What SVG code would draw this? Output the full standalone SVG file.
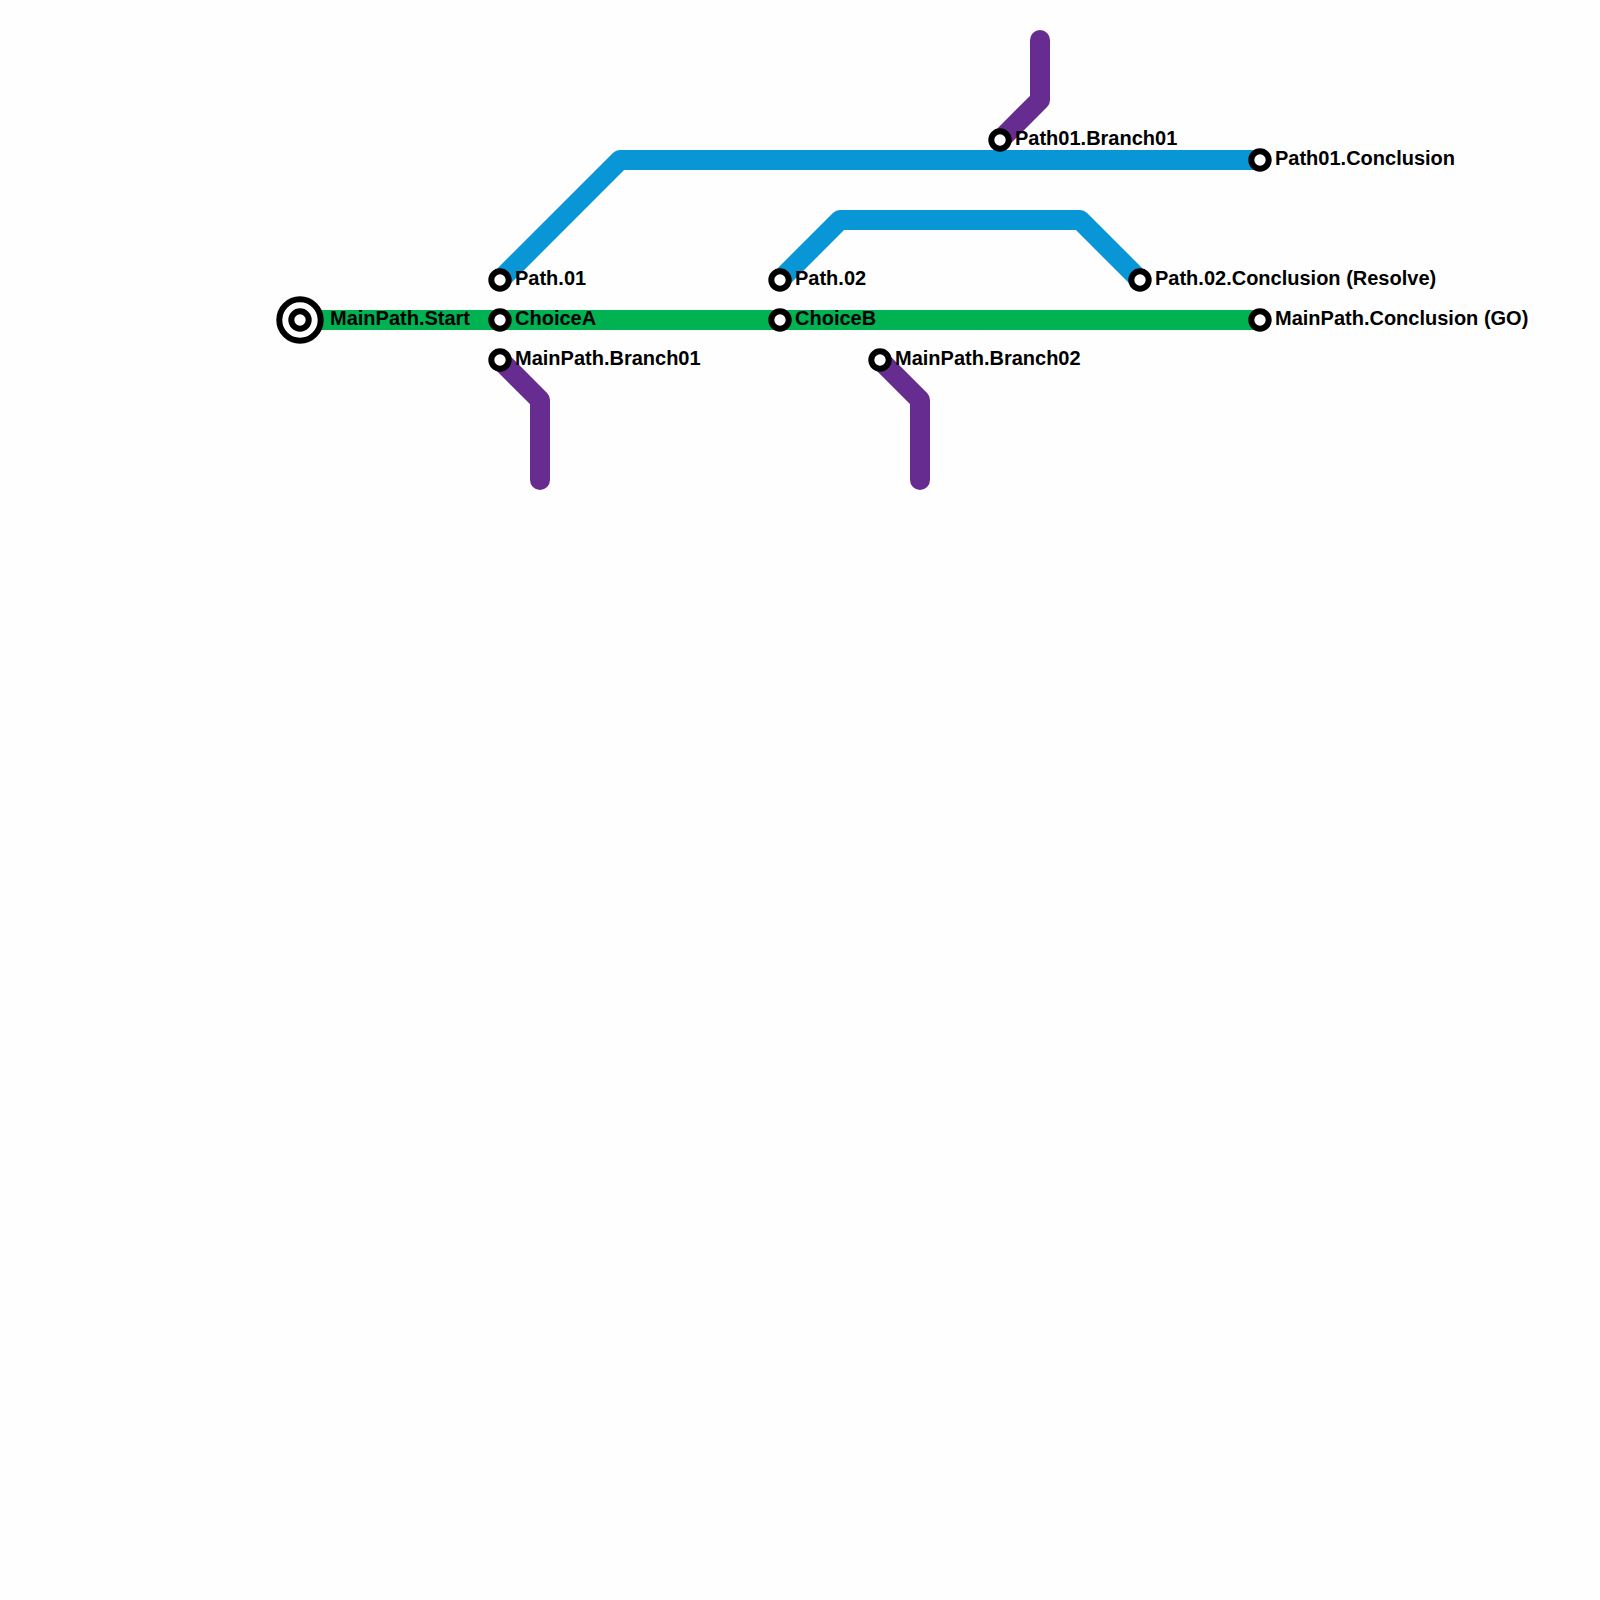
<svg xmlns="http://www.w3.org/2000/svg" width="1600" height="1600" viewBox="0 0 1600 1600">
<style>
.line{fill:none;stroke-width:20;stroke-linecap:round;stroke-linejoin:round}
.green{stroke:#00b251;stroke-linecap:butt}
.blue{stroke:#0896d7}
.purple{stroke:#662c90}
.st{fill:#fff;stroke:#000;stroke-width:6}
.outer{fill:#fff;stroke:#000;stroke-width:6}
text{font-family:"Liberation Sans",Arial,sans-serif;font-size:20px;font-weight:bold;fill:#000}
</style>
<rect width="1600" height="1600" fill="#fefefe"/>
<g id="connectors">
<path class="line green" d="M300 320H1260"/>
<path class="line blue" d="M500 280L620 160H1260"/>
<path class="line blue" d="M780 280L840 220H1080L1140 280"/>
<path class="line purple" d="M500 360L540 400V480"/>
<path class="line purple" d="M880 360L920 400V480"/>
<path class="line purple" d="M1000 140L1040 100V40"/>
</g>
<g id="MainPathStart"><circle class="outer" cx="300" cy="320" r="20.7"/><circle class="st" cx="300" cy="320" r="8.7"/><text x="330" y="325">MainPath.Start</text></g>
<g id="Path01"><circle class="st" cx="500" cy="280" r="8.7"/><text x="515" y="285">Path.01</text></g>
<g id="ChoiceA"><circle class="st" cx="500" cy="320" r="8.7"/><text x="515" y="325">ChoiceA</text></g>
<g id="MainPathBranch01"><circle class="st" cx="500" cy="360" r="8.7"/><text x="515" y="365">MainPath.Branch01</text></g>
<g id="Path02"><circle class="st" cx="780" cy="280" r="8.7"/><text x="795" y="285">Path.02</text></g>
<g id="ChoiceB"><circle class="st" cx="780" cy="320" r="8.7"/><text x="795" y="325">ChoiceB</text></g>
<g id="MainPathBranch02"><circle class="st" cx="880" cy="360" r="8.7"/><text x="895" y="365">MainPath.Branch02</text></g>
<g id="Path01Branch01"><circle class="st" cx="1000" cy="140" r="8.7"/><text x="1015" y="145">Path01.Branch01</text></g>
<g id="Path01Conclusion"><circle class="st" cx="1260" cy="160" r="8.7"/><text x="1275" y="165">Path01.Conclusion</text></g>
<g id="Path02Conclusion"><circle class="st" cx="1140" cy="280" r="8.7"/><text x="1155" y="285">Path.02.Conclusion (Resolve)</text></g>
<g id="MainPathConclusion"><circle class="st" cx="1260" cy="320" r="8.7"/><text x="1275" y="325">MainPath.Conclusion (GO)</text></g>
</svg>
